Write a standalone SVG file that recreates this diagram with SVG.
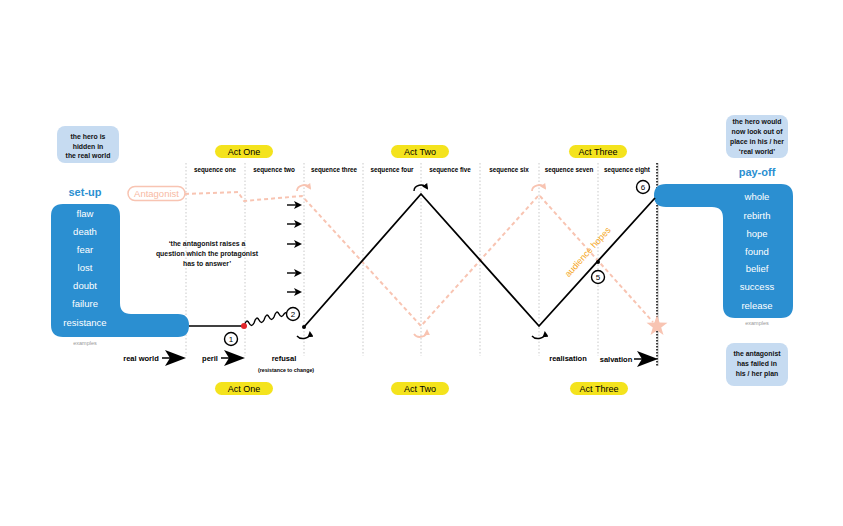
<svg xmlns="http://www.w3.org/2000/svg" width="843" height="526" viewBox="0 0 843 526">
<defs>
<style>
text{font-family:"Liberation Sans","Open Sans",Arial,sans-serif;}
.seq{font-size:6.3px;font-weight:bold;fill:#000;text-anchor:middle;}
.act{font-size:9px;fill:#000;text-anchor:middle;}
.pill{fill:#f4e31d;}
.grid{stroke:#bbb;stroke-width:0.8;stroke-dasharray:1.5,2;fill:none;}
.w{font-size:9.5px;fill:#fff;text-anchor:middle;}
.note{font-size:6.9px;font-weight:bold;fill:#111;text-anchor:middle;}
.lbl{font-size:7.5px;font-weight:bold;fill:#000;text-anchor:middle;}
.circ{fill:#fff;stroke:#000;stroke-width:1.4;}
.cnum{font-size:8px;fill:#000;text-anchor:middle;}
.peach{stroke:#f8c4b2;stroke-width:2;fill:none;stroke-dasharray:4,3;}
.small{stroke:#000;stroke-width:1.4;fill:none;}
</style>
<marker id="ah" markerWidth="6" markerHeight="6" refX="4" refY="3" orient="auto" markerUnits="userSpaceOnUse"><path d="M0,0 L6,3 L0,6 Z" fill="#000"/></marker>
<marker id="ahb" markerWidth="8" markerHeight="8" refX="5" refY="4" orient="auto" markerUnits="userSpaceOnUse"><path d="M0,0 L8,4 L0,8 L2,4 Z" fill="#000"/></marker>
<marker id="ahp" markerWidth="6" markerHeight="6" refX="4" refY="3" orient="auto" markerUnits="userSpaceOnUse"><path d="M0,0 L6,3 L0,6 Z" fill="#f8c4b2"/></marker>
</defs>
<rect width="843" height="526" fill="#fff"/>

<g id="grid">
<line class="grid" x1="186" y1="163" x2="186" y2="356"/>
<line class="grid" x1="245" y1="163" x2="245" y2="356"/>
<line class="grid" x1="304" y1="163" x2="304" y2="356"/>
<line class="grid" x1="363" y1="163" x2="363" y2="356"/>
<line class="grid" x1="421" y1="163" x2="421" y2="356"/>
<line class="grid" x1="480" y1="163" x2="480" y2="356"/>
<line class="grid" x1="539" y1="163" x2="539" y2="356"/>
<line class="grid" x1="598" y1="163" x2="598" y2="356"/>
<line x1="658" y1="163" x2="658" y2="366" stroke="#bbb" stroke-width="1"/>
<line x1="657" y1="163" x2="657" y2="366" stroke="#000" stroke-width="1.5" stroke-dasharray="1.5,1.5"/>
</g>

<g id="sequences">
<text class="seq" x="215" y="172">sequence one</text>
<text class="seq" x="274" y="172">sequence two</text>
<text class="seq" x="334" y="172">sequence three</text>
<text class="seq" x="392" y="172">sequence four</text>
<text class="seq" x="450" y="172">sequence five</text>
<text class="seq" x="509" y="172">sequence six</text>
<text class="seq" x="569" y="172">sequence seven</text>
<text class="seq" x="627" y="172">sequence eight</text>
</g>

<g id="acts">
<rect class="pill" x="215" y="145" width="58" height="13" rx="6.5"/>
<text class="act" x="244" y="155">Act One</text>
<rect class="pill" x="391" y="145" width="58" height="13" rx="6.5"/>
<text class="act" x="420" y="155">Act Two</text>
<rect class="pill" x="569" y="145" width="58" height="13" rx="6.5"/>
<text class="act" x="598" y="155">Act Three</text>
<rect class="pill" x="215" y="382" width="58" height="13" rx="6.5"/>
<text class="act" x="244" y="392">Act One</text>
<rect class="pill" x="391" y="382" width="58" height="13" rx="6.5"/>
<text class="act" x="420" y="392">Act Two</text>
<rect class="pill" x="570" y="382" width="58" height="13" rx="6.5"/>
<text class="act" x="599" y="392">Act Three</text>
</g>

<g id="hero-hidden">
<rect x="57" y="126" width="62" height="37" rx="8" fill="#c6dbf1"/>
<text class="note" x="88" y="139">the hero is</text>
<text class="note" x="88" y="148.5">hidden in</text>
<text class="note" x="88" y="158">the real world</text>
</g>

<g id="setup">
<text x="85" y="196" font-size="11" font-weight="bold" fill="#2b8fd1" text-anchor="middle">set-up</text>
<path d="M63,204 H108 Q120,204 120,216 V303 Q120,314 131,314 H178 Q189,314 189,325.5 Q189,337 178,337 H63 Q51,337 51,325 V216 Q51,204 63,204 Z" fill="#2b8fd1"/>
<text class="w" x="85" y="217">flaw</text>
<text class="w" x="85" y="235">death</text>
<text class="w" x="85" y="253">fear</text>
<text class="w" x="85" y="271">lost</text>
<text class="w" x="85" y="289">doubt</text>
<text class="w" x="85" y="307">failure</text>
<text class="w" x="85" y="326">resistance</text>
<text x="85" y="345" font-size="5.5" fill="#999" text-anchor="middle">examples</text>
</g>

<g id="payoff">
<text x="757" y="176" font-size="11" font-weight="bold" fill="#2b8fd1" text-anchor="middle">pay-off</text>
<path d="M666,184 H781 Q793,184 793,196 V306 Q793,318 781,318 H735 Q723,318 723,306 V218 Q723,207 712,207 H666 Q654,207 654,195.5 Q654,184 666,184 Z" fill="#2b8fd1"/>
<text class="w" x="757" y="200">whole</text>
<text class="w" x="757" y="219">rebirth</text>
<text class="w" x="757" y="237">hope</text>
<text class="w" x="757" y="255">found</text>
<text class="w" x="757" y="272">belief</text>
<text class="w" x="757" y="290">success</text>
<text class="w" x="757" y="309">release</text>
<text x="757" y="325" font-size="5.5" fill="#999" text-anchor="middle">examples</text>
</g>

<g id="hero-outofplace">
<rect x="726" y="115" width="62" height="43" rx="8" fill="#c6dbf1"/>
<text class="note" x="757" y="124">the hero would</text>
<text class="note" x="757" y="134">now look out of</text>
<text class="note" x="757" y="144">place in his / her</text>
<text class="note" x="757" y="154">‘real world’</text>
</g>

<g id="antagonist-failed">
<rect x="726" y="343" width="62" height="43" rx="8" fill="#c6dbf1"/>
<text class="note" x="757" y="356">the antagonist</text>
<text class="note" x="757" y="366">has failed in</text>
<text class="note" x="757" y="376">his / her plan</text>
</g>

<g id="antagonist">
<rect x="128" y="186.5" width="57" height="14" rx="7" fill="#fff" stroke="#f8c4b2" stroke-width="1.5"/>
<text x="156.5" y="197" font-size="9.5" fill="#f8b9a3" text-anchor="middle">Antagonist</text>
</g>

<g id="quote">
<text class="note" x="207" y="246">‘the antagonist raises a</text>
<text class="note" x="207" y="256">question which the protagonist</text>
<text class="note" x="207" y="266">has to answer’</text>
</g>

<g id="connectors">
<path class="peach" d="M185,194 L238,192 L244,201 L302,196 L421,326 L539,195 L653,322"/>
<path d="M657,315 L659.6,322.5 L667.5,322.7 L661.2,327.5 L663.5,335 L657,330.5 L650.5,335 L652.8,327.5 L646.5,322.7 L654.4,322.5 Z" fill="#f8c4b2"/>
<path d="M297,191 A7,6 0 0 1 310,188" stroke="#f8c4b2" stroke-width="1.8" fill="none" marker-end="url(#ahp)"/>
<path d="M532,191 A7,6 0 0 1 545,188" stroke="#f8c4b2" stroke-width="1.8" fill="none" marker-end="url(#ahp)"/>
<path d="M414,334 A7,6 0 0 0 427,331" stroke="#f8c4b2" stroke-width="1.8" fill="none" marker-end="url(#ahp)"/>

<line x1="189" y1="326" x2="244" y2="326" stroke="#000" stroke-width="1.6"/>
<path d="M244,326 q2.5,-8 5,-3 q2.5,5 5,0 q2.5,-8 5,-3 q2.5,5 5,0 q2.5,-8 5,-3 q2.5,5 5,0 q2.5,-8 5,-3 q2.5,5 5,0 q3,-4 10,3" stroke="#000" stroke-width="1.4" fill="none"/>
<path d="M304,327 L421,194 L539,326 L655,198" stroke="#000" stroke-width="1.8" fill="none" stroke-linejoin="miter"/>
<circle cx="244" cy="326" r="3" fill="#e3262b"/>
<circle cx="304" cy="327" r="2" fill="#000"/>
<circle cx="598" cy="262" r="2" fill="#000"/>
<path d="M414,191 A7,6 0 0 1 427,188" class="small" marker-end="url(#ah)"/>
<path d="M297,336 A7,5 0 0 0 310,333" class="small" marker-end="url(#ah)"/>
<path d="M532,336 A7,5 0 0 0 545,333" class="small" marker-end="url(#ah)"/>

<line x1="287" y1="205" x2="299" y2="205" class="small" marker-end="url(#ahb)"/>
<line x1="287" y1="224" x2="299" y2="224" class="small" marker-end="url(#ahb)"/>
<line x1="287" y1="244" x2="299" y2="244" class="small" marker-end="url(#ahb)"/>
<line x1="287" y1="273" x2="299" y2="273" class="small" marker-end="url(#ahb)"/>
<line x1="287" y1="292" x2="299" y2="292" class="small" marker-end="url(#ahb)"/>

<line x1="162" y1="358" x2="172" y2="358" stroke="#000" stroke-width="1.5"/>
<path d="M186,358 L165,350 L170,358 L165,366 Z" fill="#000"/>
<line x1="221" y1="358" x2="231" y2="358" stroke="#000" stroke-width="1.5"/>
<path d="M245,358 L224,350 L229,358 L224,366 Z" fill="#000"/>
<line x1="634" y1="359" x2="644" y2="359" stroke="#000" stroke-width="1.5"/>
<path d="M658,359 L637,351 L642,359 L637,367 Z" fill="#000"/>
</g>

<g id="markers">
<circle class="circ" cx="231" cy="339" r="6.5"/>
<text class="cnum" x="231" y="342">1</text>
<circle class="circ" cx="293" cy="314" r="6.5"/>
<text class="cnum" x="293" y="317">2</text>
<circle class="circ" cx="598" cy="277" r="6.5"/>
<text class="cnum" x="598" y="280">5</text>
<circle class="circ" cx="643" cy="187" r="6.5"/>
<text class="cnum" x="643" y="190">6</text>
</g>

<g id="labels">
<text class="lbl" x="141" y="361">real world</text>
<text class="lbl" x="210" y="361">peril</text>
<text class="lbl" x="284" y="361">refusal</text>
<text x="286" y="372" font-size="5.3" font-weight="bold" fill="#000" text-anchor="middle">(resistance to change)</text>
<text class="lbl" x="568" y="361">realisation</text>
<text class="lbl" x="616" y="362">salvation</text>
<text x="590" y="254" font-size="9" fill="#f5a623" text-anchor="middle" transform="rotate(-48 590 254)">audience hopes</text>
</g>
</svg>
